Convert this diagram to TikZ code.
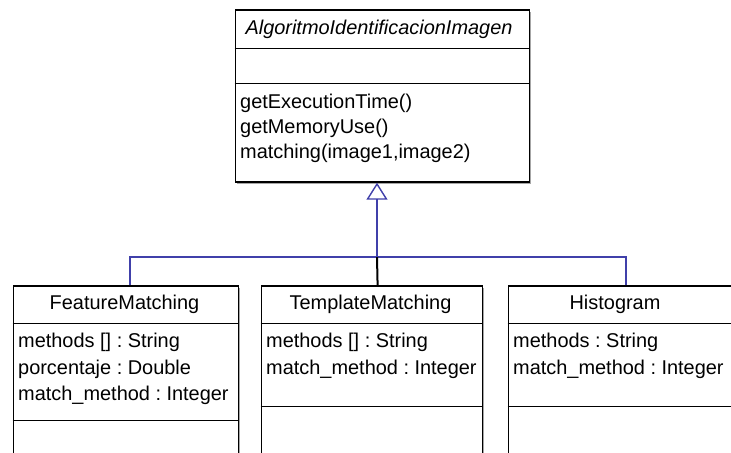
\documentclass[tikz,border=0pt]{standalone}
\usepackage{fontspec}
\setmainfont{Liberation Sans}
\frenchspacing
\usetikzlibrary{arrows.meta,shadows}
\definecolor{genblue}{HTML}{4040AA}
\tikzset{
  classbox/.style={draw=black, line width=1.2bp, fill=white, anchor=north west, inner sep=0pt,
    drop shadow={shadow xshift=2bp, shadow yshift=-2bp, fill=black!35, opacity=1}},
  sep/.style={draw=black, line width=1.2bp},
  txt/.style={anchor=base west, inner sep=0pt, font=\fontsize{20}{24}\selectfont},
  ttl/.style={anchor=base, inner sep=0pt, font=\fontsize{20}{24}\selectfont},
  genline/.style={draw=genblue, line width=2bp},
}
\begin{document}
\begin{tikzpicture}[x=1bp,y=-1bp]
\useasboundingbox (0,0) rectangle (731,453);
\clip (0,0) rectangle (731,453);
\fill[white] (0,0) rectangle (731,453);
% parent class
\node[classbox, minimum width=294bp, minimum height=172bp] (algo) at (234.5,9.5) {};
\draw[sep] (234.5,48.5) -- (528.5,48.5);
\draw[sep] (234.5,83.5) -- (528.5,83.5);
\node[ttl, font=\fontsize{20}{24}\selectfont\itshape] (algot) at (379,35) {AlgoritmoIdentificacionImagen};
\node[txt] (m1) at (240,109) {getExecutionTime()};
\node[txt] (m2) at (240,134) {getMemoryUse()};
\node[txt] (m3) at (240,159) {matching(image1,image2)};
% FeatureMatching
\node[classbox, minimum width=225bp, minimum height=190bp] (fm) at (12.5,285.5) {};
\draw[sep] (12.5,323.5) -- (237.5,323.5);
\draw[sep] (12.5,420.5) -- (237.5,420.5);
\node[ttl] (fmt) at (124.5,310) {FeatureMatching};
\node[txt] (fa1) at (18,348) {methods [] : String};
\node[txt] (fa2) at (18,374) {porcentaje : Double};
\node[txt] (fa3) at (18,400) {match\_method : Integer};
% TemplateMatching
\node[classbox, minimum width=221bp, minimum height=190bp] (tm) at (260.5,285.5) {};
\draw[sep] (260.5,323.5) -- (481.5,323.5);
\draw[sep] (260.5,406.5) -- (481.5,406.5);
\node[ttl] (tmt) at (370.5,310) {TemplateMatching};
\node[txt] (ta1) at (266,348) {methods [] : String};
\node[txt] (ta2) at (266,374) {match\_method : Integer};
% Histogram
\node[classbox, minimum width=236bp, minimum height=190bp] (hg) at (507.5,285.5) {};
\draw[sep] (507.5,323.5) -- (760,323.5);
\draw[sep] (507.5,406.5) -- (760,406.5);
\node[ttl] (hgt) at (615,310) {Histogram};
\node[txt] (ha1) at (513,348) {methods : String};
\node[txt] (ha2) at (513,374) {match\_method : Integer};
% generalization
\coordinate (j) at (377,257);
\coordinate (fmj) at ([xshift=4.5bp]fm.north);
\coordinate (tmj) at ([xshift=6bp]tm.north);
\coordinate (hgj) at (hg.north);
\draw[genline] (fmj) |- (j);
\draw[genline] (hgj) |- (j);
\draw[line width=2bp, black] (tmj) -- (j);
\draw[genline, -{Triangle[open, length=17bp, width=21bp, line width=1.4bp]}] (j) -- (j |- algo.south);
\end{tikzpicture}
\end{document}
